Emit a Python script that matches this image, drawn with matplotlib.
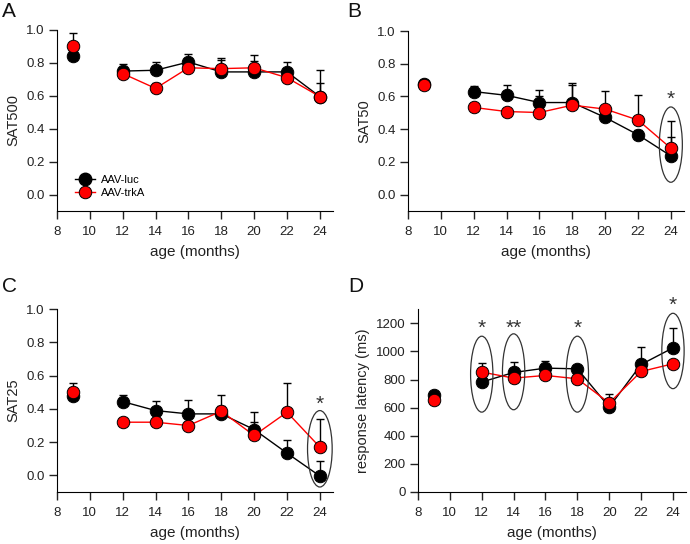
import numpy as np
import matplotlib
matplotlib.use('Agg')
from matplotlib import pyplot as plt
from matplotlib.patches import Ellipse

plt.rcParams['font.family'] = ['Liberation Sans', 'DejaVu Sans']

ages = [9, 12, 14, 16, 18, 20, 22, 24]

# SAT500
a_luc = [0.84, 0.75, 0.755, 0.805, 0.745, 0.745, 0.745, 0.595]
a_luc_err = [0.02, 0.045, 0.05, 0.05, 0.075, 0.065, 0.06, 0.16]
a_trk = [0.90, 0.735, 0.645, 0.77, 0.765, 0.77, 0.71, 0.595]
a_trk_err = [0.08, 0.03, 0.03, 0.03, 0.065, 0.08, 0.03, 0.08]

# SAT50
b_luc = [0.675, 0.63, 0.607, 0.563, 0.563, 0.472, 0.366, 0.237]
b_luc_err = [0.02, 0.035, 0.063, 0.075, 0.12, 0.05, 0.03, 0.113]
b_trk = [0.672, 0.533, 0.508, 0.502, 0.547, 0.523, 0.456, 0.284]
b_trk_err = [0.02, 0.02, 0.02, 0.1, 0.125, 0.112, 0.154, 0.166]

# SAT25
c_luc = [0.48, 0.444, 0.39, 0.37, 0.37, 0.276, 0.134, -0.004]
c_luc_err = [0.02, 0.042, 0.056, 0.082, 0.05, 0.108, 0.076, 0.088]
c_trk = [0.50, 0.32, 0.32, 0.30, 0.386, 0.24, 0.38, 0.17]
c_trk_err = [0.054, 0.02, 0.02, 0.02, 0.098, 0.084, 0.174, 0.17]

# response latency (ms)
d_luc = [692, 782, 850, 881, 876, 604, 907, 1025]
d_luc_err = [20, 20, 30, 54, 20, 20, 123, 142]
d_trk = [657, 853, 810, 829, 805, 633, 857, 912]
d_trk_err = [20, 66, 113, 20, 20, 67, 20, 20]

# significance marks: (age, ellipse centre, ellipse height, star y, label)
b_sig = [(24, 0.306, 0.46, 0.585, '*')]
c_sig = [(24, 0.16, 0.46, 0.43, '*')]
d_sig = [(12, 838, 540, 1165, '*'), (14, 855, 540, 1165, '**'),
         (18, 838, 540, 1165, '*'), (24, 1003, 536, 1330, '*')]

fig = plt.figure(figsize=(6.9, 5.44), dpi=100)

positions = {
    'A': [0.0826, 0.612, 0.40, 0.333],
    'B': [0.5913, 0.612, 0.40, 0.331],
    'C': [0.0826, 0.0956, 0.40, 0.336],
    'D': [0.6058, 0.0956, 0.388, 0.336],
}


def draw_panel(ax, luc, luc_err, trk, trk_err, ylabel, ylim, yticks, fmt):
    for vals, err, col in [(luc, luc_err, 'black'), (trk, trk_err, '#ff0000')]:
        ax.errorbar(ages, vals, yerr=[np.zeros(len(err)), err], fmt='none',
                    ecolor='black', elinewidth=1, capsize=3, capthick=1, zorder=2)
        ax.plot(ages[1:], vals[1:], color=col, lw=1, zorder=3)
        ax.plot(ages, vals, 'o', color=col, mec='black', mew=0.7, ms=9,
                zorder=4)
    ax.set_xlim(8, 24.8)
    ax.set_xticks(range(8, 25, 2))
    ax.set_ylim(*ylim)
    ax.set_yticks(yticks)
    ax.set_yticklabels([fmt.format(v) for v in yticks])
    ax.spines['top'].set_visible(False)
    ax.spines['right'].set_visible(False)
    ax.tick_params(direction='out', length=5.5, width=1, labelsize=9.5,
                   colors='#222222')
    ax.tick_params(axis='x', pad=5)
    ax.set_xlabel('age (months)', fontsize=11, color='#222222', labelpad=5)
    ax.set_ylabel(ylabel, fontsize=10.5, color='#222222', labelpad=4)


def draw_sig(ax, sig, width):
    for x, yc, h, ys, lab in sig:
        ax.add_patch(Ellipse((x, yc), width, h, fill=False, ec='#333333', lw=0.9,
                             zorder=5))
        ax.text(x, ys, lab, ha='center', va='center', fontsize=15, color='#333333',
                clip_on=False)


axA = fig.add_axes(positions['A'])
draw_panel(axA, a_luc, a_luc_err, a_trk, a_trk_err, 'SAT500', (-0.1, 1.0),
           np.arange(0, 1.01, 0.2), '{:.1f}')
hl, = axA.plot([], [], 'o-', color='black', mec='black', ms=9, lw=1)
hr, = axA.plot([], [], 'o-', color='#ff0000', mec='black', mew=0.7, ms=9, lw=1)
axA.legend([hl, hr], ['AAV-luc', 'AAV-trkA'], loc='lower left',
           bbox_to_anchor=(0.045, 0.04), frameon=False, fontsize=8,
           handlelength=1.8, handletextpad=0.5, labelspacing=0.3, borderpad=0)

axB = fig.add_axes(positions['B'])
draw_panel(axB, b_luc, b_luc_err, b_trk, b_trk_err, 'SAT50', (-0.1, 1.0),
           np.arange(0, 1.01, 0.2), '{:.1f}')
draw_sig(axB, b_sig, 1.4)

axC = fig.add_axes(positions['C'])
draw_panel(axC, c_luc, c_luc_err, c_trk, c_trk_err, 'SAT25', (-0.1, 1.0),
           np.arange(0, 1.01, 0.2), '{:.1f}')
draw_sig(axC, c_sig, 1.5)

axD = fig.add_axes(positions['D'])
draw_panel(axD, d_luc, d_luc_err, d_trk, d_trk_err, 'response latency (ms)',
           (0, 1300), np.arange(0, 1201, 200), '{:.0f}')
draw_sig(axD, d_sig, 1.4)

for letter, x, y in [('A', 0.003, 0.997), ('B', 0.503, 0.997),
                     ('C', 0.003, 0.49), ('D', 0.505, 0.49)]:
    fig.text(x, y, letter, fontsize=15, va='top', ha='left', color='#111111')

fig.savefig('out.png', dpi=100)
